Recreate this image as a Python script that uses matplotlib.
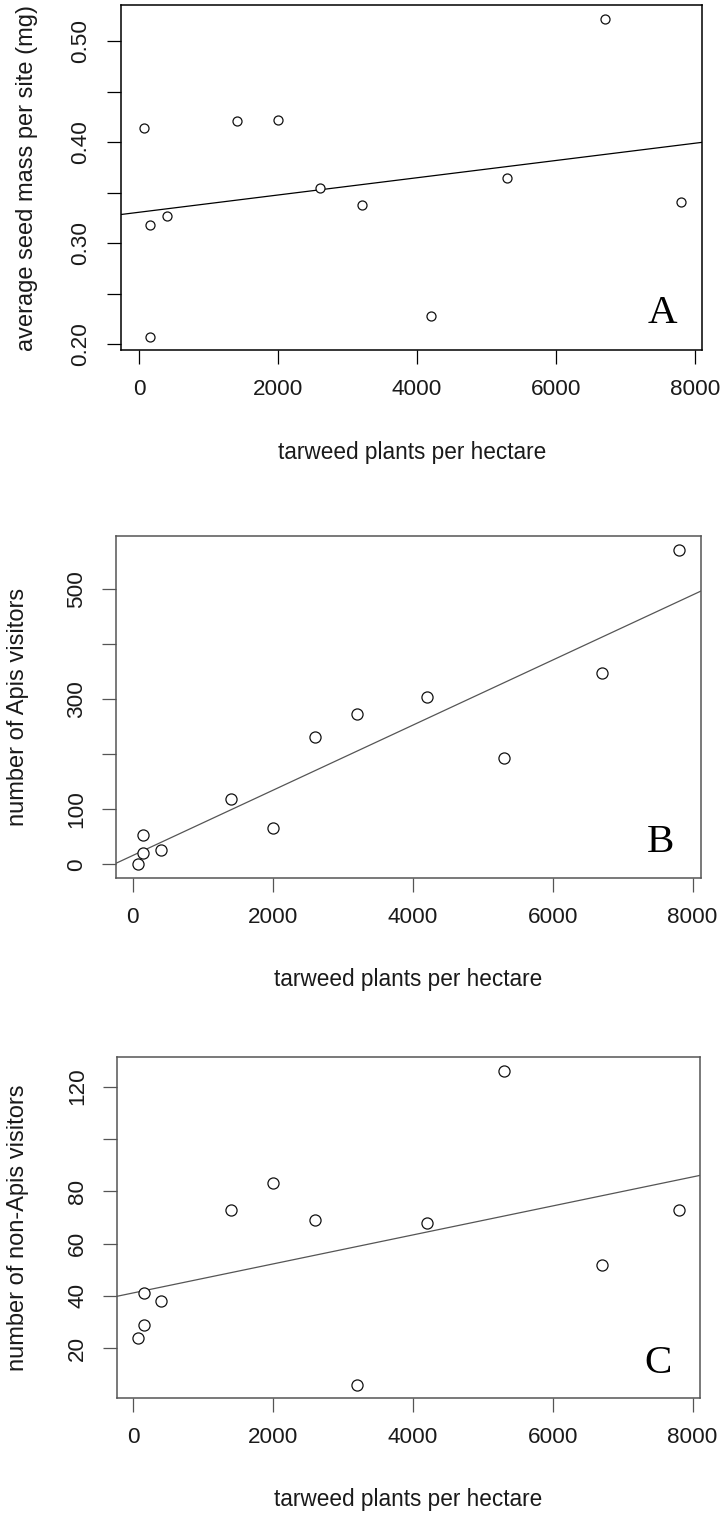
import numpy as np
import matplotlib
matplotlib.use("Agg")
import matplotlib.pyplot as plt

# tarweed density at each of the 12 sites (plants per hectare)
density = [70, 150, 150, 400, 1400, 2000, 2600, 3200, 4200, 5300, 6700, 7800]
# panel A: average seed mass per site (mg)
seed_mass = [0.414, 0.318, 0.207, 0.327, 0.421, 0.422, 0.355, 0.338, 0.228, 0.364, 0.522, 0.341]
# panel B: number of Apis visitors
apis = [0, 53, 20, 26, 118, 65, 231, 272, 303, 193, 347, 571]
# panel C: number of non-Apis visitors
non_apis = [24, 29, 41, 38, 73, 83, 69, 6, 68, 126, 52, 73]

x_ticks = [0, 2000, 4000, 6000, 8000]
xlabel = "tarweed plants per hectare"

plt.rcParams['font.family'] = ['Liberation Sans', 'DejaVu Sans']

W, H = 722, 1515
fig = plt.figure(figsize=(W / 100, H / 100), dpi=100)


def px_axes(left, top, right, bottom):
    return fig.add_axes([left / W, 1 - bottom / H, (right - left) / W, (bottom - top) / H])


panels = [
    dict(y=seed_mass, box=(121.3, 5, 702.3, 350.3), xlim=(-259, 8105), ylim=(0.194, 0.5356),
         yticks=[0.20, 0.25, 0.30, 0.35, 0.40, 0.45, 0.50],
         ylabels=["0.20", "", "0.30", "", "0.40", "", "0.50"],
         ylabel="average seed mass per site (mg)", letter="A",
         frame="black", line="black", ms=6.5, ylab_x=27, ytick_pad=11.5, letter_xy=(662.8, 322.7)),
    dict(y=apis, box=(115.7, 536, 700.9, 877.7), xlim=(-243, 8118), ylim=(-24.3, 595.6),
         yticks=[0, 100, 200, 300, 400, 500],
         ylabels=["0", "100", "", "300", "", "500"],
         ylabel="number of Apis visitors", letter="B",
         frame="#555555", line="#555555", ms=8, ylab_x=18, ytick_pad=10.5, letter_xy=(660.5, 851.7)),
    dict(y=non_apis, box=(116.7, 1057.3, 700, 1397.7), xlim=(-237, 8107), ylim=(1.1, 131.2),
         yticks=[20, 40, 60, 80, 100, 120],
         ylabels=["20", "40", "60", "80", "", "120"],
         ylabel="number of non-Apis visitors", letter="C",
         frame="#555555", line="#555555", ms=8, ylab_x=18, ytick_pad=10.5, letter_xy=(658.5, 1372.7)),
]

for p in panels:
    left, top, right, bottom = p['box']
    ax = px_axes(left, top, right, bottom)
    w_px, h_px = right - left, bottom - top

    ax.plot(density, p['y'], linestyle='none', marker='o', ms=p['ms'],
            mfc='white', mec='#111111', mew=0.9, zorder=3)

    # least squares line, drawn across the whole panel
    slope, intercept = np.polyfit(density, p['y'], 1)
    ax.axline((0, intercept), slope=slope, color=p['line'], lw=0.9, zorder=2)

    ax.set_xlim(*p['xlim'])
    ax.set_ylim(*p['ylim'])
    ax.set_xticks(x_ticks)
    ax.set_xticklabels([str(t) for t in x_ticks])
    ax.set_yticks(p['yticks'])
    ax.set_yticklabels(p['ylabels'])

    for s in ax.spines.values():
        s.set_color(p['frame'])
        s.set_linewidth(1.1)

    ax.tick_params(axis='x', length=10, width=0.9, color=p['frame'], pad=11,
                   labelsize=16.2, labelcolor='#1a1a1a')
    ax.tick_params(axis='y', length=10, width=0.9, color=p['frame'], pad=p['ytick_pad'],
                   labelsize=16.2, labelcolor='#1a1a1a')
    plt.setp(ax.get_yticklabels(), rotation=90, va='center', ha='right')

    ax.set_xlabel(xlabel, fontsize=16.3, color='#1a1a1a', va='center')
    ax.xaxis.set_label_coords(0.5, -102 / h_px)
    ax.set_ylabel(p['ylabel'], fontsize=17, color='#1a1a1a', va='center')
    ax.yaxis.set_label_coords((p['ylab_x'] - left) / w_px, 0.5)

    lx, ly = p['letter_xy']
    ax.text((lx - left) / w_px, (bottom - ly) / h_px, p['letter'], transform=ax.transAxes,
            ha='center', va='baseline', fontsize=29.5, family='Liberation Serif', color='black')

fig.savefig("out.png", dpi=100)
